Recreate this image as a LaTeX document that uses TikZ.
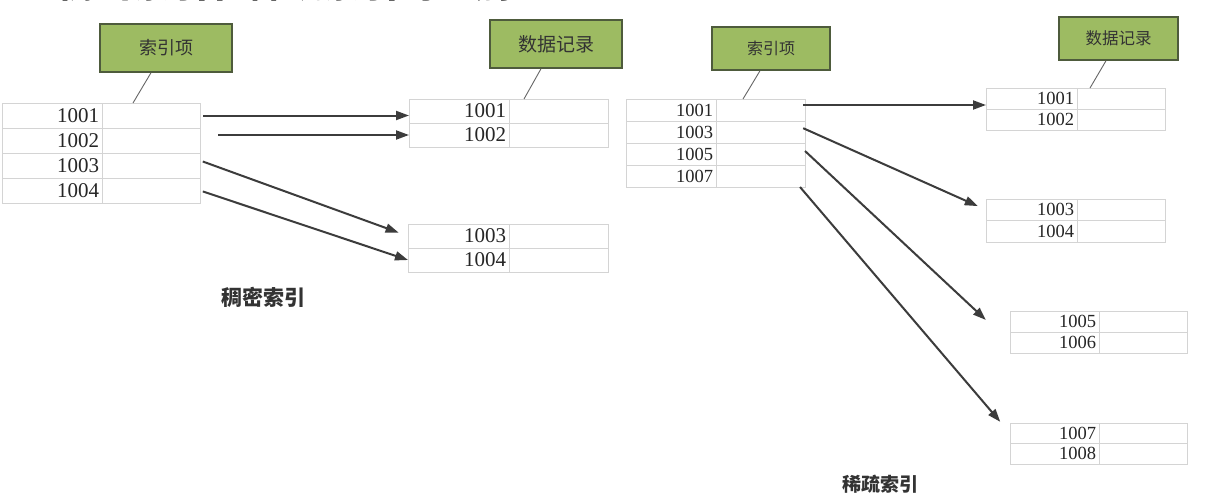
\documentclass[tikz,border=0pt]{standalone}
\usepackage{fontspec}
\setmainfont{Liberation Serif}
\newfontfamily\cjk{Noto Sans CJK SC}
\usepackage{tikz}
\usetikzlibrary{arrows.meta,positioning}
\definecolor{boxgreen}{HTML}{9DBB62}
\definecolor{boxline}{HTML}{4E5B3C}
\definecolor{gridgray}{HTML}{D4D4D4}
\definecolor{arrowgray}{HTML}{3C3C3C}

\begin{document}
\begin{tikzpicture}[
x=1pt,y=-1pt,
tagbox/.style={draw=boxline,line width=1.5pt,fill=boxgreen,inner sep=0pt,
  text=black!80,font=\cjk\fontsize{#1}{#1}\selectfont},
tagline/.style={draw=black!60,line width=0.9pt},
keycell/.style 2 args={draw=gridgray,line width=0.8pt,anchor=north west,outer sep=0pt,
  text width=#1,align=right,inner xsep=3pt,inner ysep=0pt,minimum height=#2,text=black!85},
valcell/.style 2 args={draw=gridgray,line width=0.8pt,anchor=west,outer sep=0pt,
  inner sep=0pt,minimum width=#1,minimum height=#2},
ptr/.style={-{Triangle[length=13pt,width=9pt]},draw=arrowgray,line width=2pt,shorten <=3pt},
caption/.style={text=black!80,font=\cjk\bfseries\fontsize{#1}{#1}\selectfont}]
    % page
    \fill[white] (0,0) rectangle (1222,495);
    \useasboundingbox (0,0) rectangle (1222,495);

    % title, cut off at the top
    \node[anchor=base west,inner sep=0pt,font=\cjk\bfseries\fontsize{38}{38}\selectfont]
        (title) at (57,-2.5) {稠密索引和稀疏索引的区别};

    % index tables
    \foreach \k [count=\i] in {1001,1002,1003,1004}{
        \node[keycell={94pt}{25pt},font=\fontsize{21}{21}\selectfont] (di\i) at (2,{103+25*(\i-1)}) {\k};
        \node[valcell={98pt}{25pt}] (div\i) at (di\i.east) {};
    }
    \foreach \k [count=\i] in {1001,1003,1005,1007}{
        \node[keycell={84pt}{22pt},font=\fontsize{18.5}{18.5}\selectfont] (si\i) at (626,{99+22*(\i-1)}) {\k};
        \node[valcell={89pt}{22pt}] (siv\i) at (si\i.east) {};
    }

    % data record tables
    \foreach \t/\x/\y/\wa/\wb/\h/\fs/\ka/\kb in {
        dr/409/99/100/99/24/21/1001/1002,
        dr/408/224/101/99/24/21/1003/1004,
        sr/986/88/91/88/21/18.5/1001/1002,
        sr/986/199/91/88/21.5/18.5/1003/1004,
        sr/1010/311/89/88/21/18.5/1005/1006,
        sr/1010/423/89/88/20.5/18.5/1007/1008}{
        \pgfmathsetmacro\tw{\wa-6}
        \node[keycell={\tw pt}{\h pt},font=\fontsize{\fs}{\fs}\selectfont] (\t\ka) at (\x,\y) {\ka};
        \node[valcell={\wb pt}{\h pt}] (\t\ka v) at (\t\ka.east) {};
        \node[keycell={\tw pt}{\h pt},font=\fontsize{\fs}{\fs}\selectfont] (\t\kb) at (\x,\y+\h) {\kb};
        \node[valcell={\wb pt}{\h pt}] (\t\kb v) at (\t\kb.east) {};
    }

    % green tags
    \node[tagbox=18,minimum width=132pt,minimum height=48pt] (dtag) at (166,48) {索引项};
    \node[tagbox=19,minimum width=132pt,minimum height=48pt] (drtag) at (556,44) {数据记录};
    \node[tagbox=16,minimum width=118pt,minimum height=43pt] (stag) at (771,48.5) {索引项};
    \node[tagbox=16.5,minimum width=119pt,minimum height=43pt] (srtag) at (1118.5,38.5) {数据记录};

    \draw[tagline] ([xshift=-15pt]dtag.south) -- ([xshift=-33pt]dtag.south |- di1.north);
    \draw[tagline] ([xshift=-15pt]drtag.south) -- ([xshift=-32pt]drtag.south |- dr1001.north);
    \draw[tagline] ([xshift=-11pt]stag.south) -- ([xshift=-28pt]stag.south |- si1.north);
    \draw[tagline] ([xshift=-12.5pt]srtag.south) -- ([xshift=-28.5pt]srtag.south |- sr1001.north);

    % dense index pointers
    \draw[ptr] (div1.east) -- (div1.east -| dr1001.west);
    \draw[ptr] ([xshift=15pt]div2.east |- dr1002.west) -- (dr1002.west);
    \draw[ptr,shorten >=10pt] ([yshift=5pt]div3.east) -- (dr1003.west);
    \draw[ptr] (div4.east) -- (dr1004.west);

    % sparse index pointers
    \draw[ptr,shorten <=-2pt] ([yshift=5pt]siv1.east) -- ([yshift=5pt]siv1.east -| sr1001.west);
    \draw[ptr,shorten <=-2pt,shorten >=9pt] ([yshift=3pt]siv2.east) -- (sr1003.west);
    \draw[ptr,shorten <=0pt,shorten >=33pt] ([yshift=3pt]siv3.east) -- (sr1006.west);
    \draw[ptr,shorten <=0pt,shorten >=15pt] ([xshift=-5pt]siv4.south east) -- (sr1007.west);

    % captions
    \node[caption=21] (dcap) at (263,297) {稠密索引};
    \node[caption=19] (scap) at (880,484) {稀疏索引};
\end{tikzpicture}
\end{document}
